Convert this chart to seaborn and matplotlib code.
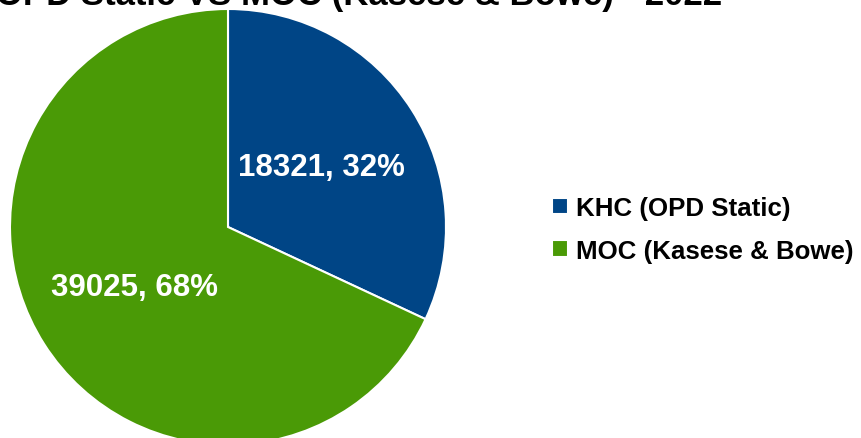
import matplotlib
matplotlib.use("Agg")
import matplotlib.pyplot as plt
import seaborn as sns

# ── DATOS ─────────────────────────────────────────────────────────────
categorias = ["KHC (OPD Static)", "MOC (Kasese & Bowe)"]
valores = [18321, 39025]
colores = ["#004586", "#4A9A06"]
titulo = "KHC OPD Static VS MOC (Kasese & Bowe) - 2022"

sns.set_theme(style="white")
plt.rcParams["font.family"] = ["Liberation Sans", "DejaVu Sans"]
plt.rcParams["text.color"] = "black"

fig = plt.figure(figsize=(8.62, 4.39), dpi=100)
W, H = 862, 439

# pie centred at (228, 228) px from top-left, radius 218 px
cx, cy, r = 228, 228, 218
ax = fig.add_axes([(cx - r) / W, (H - cy - r) / H, 2 * r / W, 2 * r / H])

total = sum(valores)
wedges, texts, autotexts = ax.pie(
    valores,
    colors=colores,
    startangle=90,
    counterclock=False,
    autopct=lambda p: f"{round(p * total / 100):d}, {p:.0f}%",
    pctdistance=0.51,
    wedgeprops={"edgecolor": "white", "linewidth": 1.5},
    textprops={"color": "white", "fontsize": 22.5, "fontweight": "bold"},
)
ax.set_xlim(-1, 1)
ax.set_ylim(-1, 1)
ax.set_aspect("equal")
ax.axis("off")

leg = fig.legend(
    wedges, categorias,
    loc="center left", bbox_to_anchor=(552 / W, 1 - 230.5 / H),
    frameon=False, borderpad=0, borderaxespad=0,
    handlelength=0.62, handleheight=0.62, handletextpad=0.3,
    labelspacing=0.72,
    prop={"size": 18.6, "weight": "bold"},
)
for t in leg.get_texts():
    t.set_color("black")

fig.text(722 / W, 1 - 5 / H, titulo, ha="right", va="baseline",
         fontsize=25, fontweight="bold", color="black")

fig.savefig("out.png", dpi=100)
